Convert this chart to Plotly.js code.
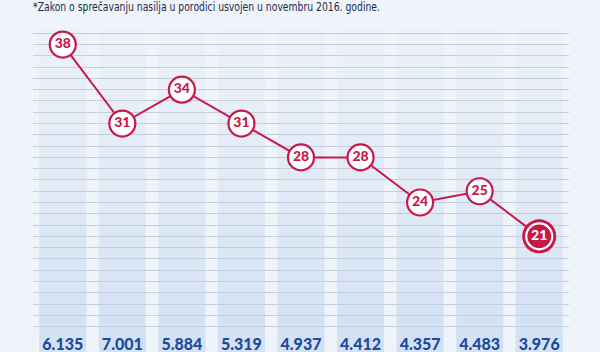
<!DOCTYPE html>
<html>
<head>
<meta charset="utf-8">
<script src="https://cdn.plot.ly/plotly-3.0.1.min.js"></script>
<style>html,body{margin:0;padding:0;background:#eff3fa;}#chart{width:600px;height:352px;}</style>
</head>
<body>
<div id="chart"></div>
<script>
// ---- data ----
const counts = [6135, 7001, 5884, 5319, 4937, 4412, 4357, 4483, 3976];
const rates = [38, 31, 34, 31, 28, 28, 24, 25, 21];
const note = '*Zakon o sprečavanju nasilja u porodici usvojen u novembru 2016. godine.';

// ---- style ----
const crimson = '#c8184a';
const blue = '#1c4b9f';
const yMin = 10.75, yMax = 39.29;
const fmt = n => String(n).replace(/\B(?=(\d{3})+(?!\d))/g, '.');
const cats = counts.map(fmt);

const traces = [];
// column background with vertical gradient (overlaid bands)
const N = 16;
const h = (yMax - yMin) / N;
for (let i = 0; i < N; i++) {
  const t = i / (N - 1); // 0 bottom, 1 top
  const a = 0.07 + 0.46 * Math.pow(1 - t, 1.2);
  traces.push({
    type: 'bar', x: cats, y: cats.map(() => h), base: yMin + i * h,
    marker: {color: 'rgba(187,209,237,' + a.toFixed(3) + ')', line: {width: 0}},
    hoverinfo: 'skip', showlegend: false
  });
}
const last = rates.length - 1;
// outer ring for the last point
traces.push({
  type: 'scatter', mode: 'markers', x: [cats[last]], y: [rates[last]],
  marker: {size: 34, color: crimson, line: {width: 0}}, showlegend: false, hoverinfo: 'skip', cliponaxis: false
});
traces.push({
  type: 'scatter', mode: 'lines+markers+text', x: cats, y: rates,
  text: rates.map(String), textposition: 'middle center',
  textfont: {family: 'Lato', size: 14, weight: 900, color: rates.map((v, i) => i === last ? '#ffffff' : crimson)},
  line: {color: crimson, width: 2},
  marker: {
    size: 26,
    color: rates.map((v, i) => i === last ? crimson : '#ffffff'),
    line: {color: rates.map((v, i) => i === last ? '#ffffff' : crimson), width: 2.2}
  },
  cliponaxis: false, showlegend: false, hoverinfo: 'skip'
});

const layout = {
  width: 600, height: 352,
  margin: {l: 33, r: 31, t: 30, b: 0},
  paper_bgcolor: '#eff3fa', plot_bgcolor: '#eff3fa',
  barmode: 'overlay', bargap: 0.21,
  showlegend: false,
  xaxis: {
    type: 'category', range: [-0.5, cats.length - 0.5],
    showgrid: false, zeroline: false, showline: false, ticks: '',
    ticklabelposition: 'inside', ticklabelstandoff: -4,
    tickfont: {family: 'Lato', size: 16, weight: 900, color: blue}, fixedrange: true
  },
  yaxis: {
    range: [yMin, yMax], tick0: 0, dtick: 1, showticklabels: false,
    gridcolor: '#c6cedb', gridwidth: 1, zeroline: false, showline: false, fixedrange: true
  },
  annotations: [{
    text: note, xref: 'paper', yref: 'paper', x: 0, y: 1 + 33 / 322,
    xanchor: 'left', yanchor: 'top', showarrow: false,
    font: {family: '"DejaVu Sans Condensed", "Liberation Sans", sans-serif', size: 13, color: '#1f2b4d'}
  }]
};
Plotly.newPlot('chart', traces, layout, {displayModeBar: false, staticPlot: true}).then(gd => {
  // condense the footnote horizontally to the reference's width, keeping it left-aligned
  const gRect = gd.getBoundingClientRect();
  gd.querySelectorAll('.annotation-text').forEach(t => {
    t.setAttribute('textLength', '347');
    t.setAttribute('lengthAdjust', 'spacingAndGlyphs');
    const left = t.getBoundingClientRect().left - gRect.left;
    const x = parseFloat(t.getAttribute('x') || '0');
    t.setAttribute('x', String(x + (33 - left)));
  });
});
</script>
</body>
</html>
